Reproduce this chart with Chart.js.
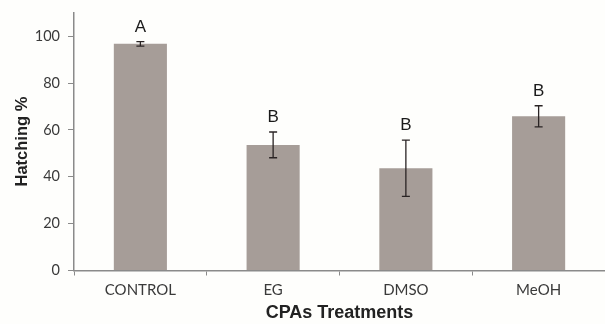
<!DOCTYPE html>
<html>
<head>
<meta charset="utf-8">
<script src="https://cdn.jsdelivr.net/npm/chart.js@4"></script>
<style>
  html, body { margin: 0; padding: 0; background: #fefefc; }
  #wrap { position: relative; width: 605px; height: 324px; }
</style>
</head>
<body>
<div id="wrap"><canvas id="c"></canvas></div>
<script>
const categories = ["CONTROL", "EG", "DMSO", "MeOH"];
const hatching = [96.7, 53.6, 43.6, 65.8];
const errors = [1.0, 5.5, 12.0, 4.5];
const letters = ["A", "B", "B", "B"];
const yTicks = [0, 20, 40, 60, 80, 100];

const BAR_COLOR = "#a69d98";
const AXIS_COLOR = "#8a8a8a";

// error bars + significance letters
const errorBarPlugin = {
  id: "errorBars",
  afterDatasetsDraw(chart) {
    const ctx = chart.ctx;
    const meta = chart.getDatasetMeta(0);
    const y = chart.scales.y;
    ctx.save();
    meta.data.forEach((bar, i) => {
      const top = y.getPixelForValue(hatching[i] + errors[i]);
      const bot = y.getPixelForValue(hatching[i] - errors[i]);
      const x = bar.x;
      ctx.strokeStyle = "#2a2424";
      ctx.lineWidth = 1.3;
      ctx.beginPath();
      ctx.moveTo(x, top);
      ctx.lineTo(x, bot);
      ctx.moveTo(x - 4, top);
      ctx.lineTo(x + 4, top);
      ctx.moveTo(x - 4, bot);
      ctx.lineTo(x + 4, bot);
      ctx.stroke();

      ctx.fillStyle = "#1a1a1a";
      ctx.font = "17px 'Liberation Sans', Arial, sans-serif";
      ctx.textAlign = "center";
      ctx.textBaseline = "alphabetic";
      ctx.fillText(letters[i], x, top - 10);
    });
    ctx.restore();
  },
};

new Chart(document.getElementById("c"), {
  type: "bar",
  data: {
    labels: categories,
    datasets: [
      {
        data: hatching,
        backgroundColor: BAR_COLOR,
        borderWidth: 0,
        barPercentage: 0.4,
        categoryPercentage: 1.0,
      },
    ],
  },
  options: {
    responsive: true,
    maintainAspectRatio: false,
    animation: false,
    layout: { padding: { top: 12.7, right: 0, left: 0, bottom: 0 } },
    plugins: {
      legend: { display: false },
      tooltip: { enabled: false },
    },
    scales: {
      x: {
        grid: {
          display: true,
          drawOnChartArea: false,
          offset: true,
          tickLength: 5,
          color: AXIS_COLOR,
        },
        border: { color: AXIS_COLOR, width: 1.5 },
        ticks: {
          color: "#3a3a3a",
          font: { family: "Lato, 'Open Sans', sans-serif", size: 15 },
          padding: 6,
          maxRotation: 0,
        },
        title: {
          display: true,
          text: "CPAs Treatments",
          color: "#222",
          font: { family: "'Liberation Sans', Arial, sans-serif", size: 18, weight: "bold" },
          padding: { top: 0, bottom: 0 },
        },
        afterFit: (s) => {
          s.height = 53.5;
          s.paddingLeft = 0;
          s.paddingRight = 0;
        },
      },
      y: {
        min: 0,
        max: 110,
        grid: {
          display: true,
          drawOnChartArea: false,
          tickLength: 6,
          color: AXIS_COLOR,
        },
        border: { color: AXIS_COLOR, width: 1.5 },
        afterBuildTicks: (s) => {
          s.ticks = yTicks.map((v) => ({ value: v }));
        },
        ticks: {
          color: "#3a3a3a",
          font: { family: "Lato, 'Open Sans', sans-serif", size: 14.5 },
          padding: 8,
        },
        title: {
          display: true,
          text: "Hatching %",
          color: "#222",
          font: { family: "'Liberation Sans', Arial, sans-serif", size: 16.5, weight: "bold" },
          padding: { top: 13, bottom: 0 },
        },
        afterFit: (s) => {
          s.width = 74;
          s.paddingTop = 0;
          s.paddingBottom = 0;
        },
      },
    },
  },
  plugins: [errorBarPlugin],
});
</script>
</body>
</html>
